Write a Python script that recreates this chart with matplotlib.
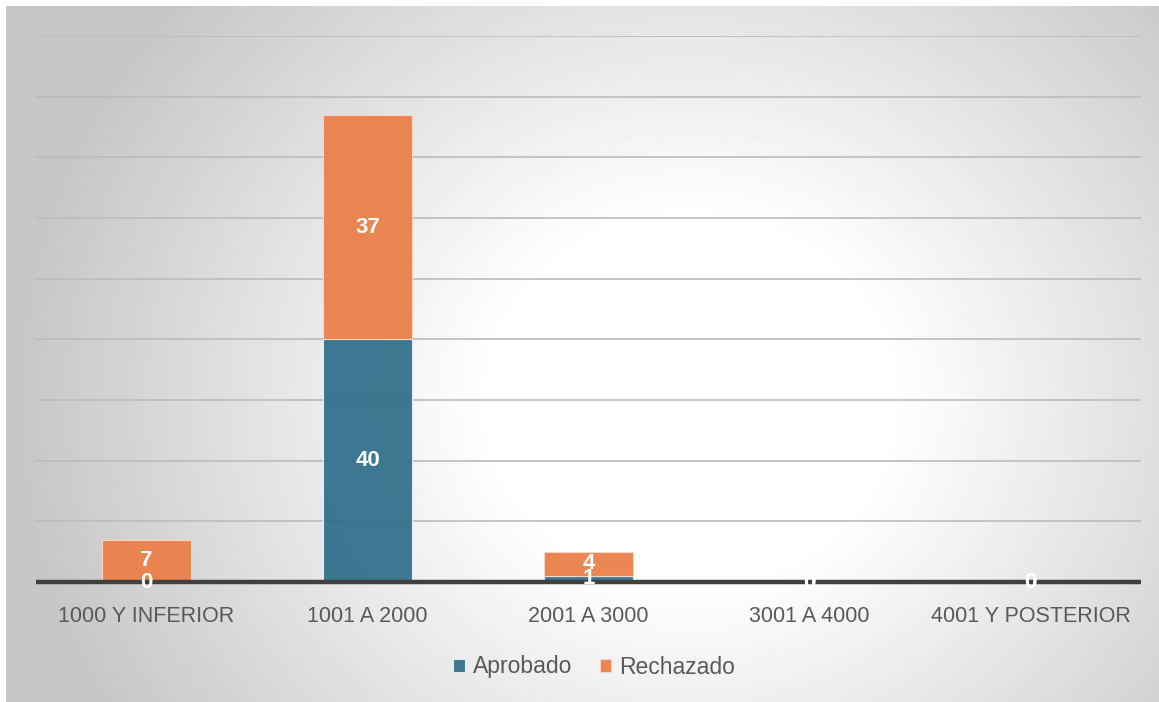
import matplotlib.pyplot as plt
import numpy as np

categories = ["1000 Y INFERIOR", "1001 A 2000", "2001 A 3000", "3001 A 4000", "4001 Y POSTERIOR"]
aprobado = [0, 40, 1, 0, 0]
rechazado = [7, 37, 4, 0, 0]

c_apr = "#33718C"
c_rec = "#EB8049"
text_col = "#595959"

plt.rcParams['font.family'] = ['Liberation Sans', 'DejaVu Sans']

W, H = 1159, 702
fig = plt.figure(figsize=(W / 100, H / 100), dpi=100)
fig.patch.set_facecolor("white")

# radial grey-to-white background of the chart area (white centre, grey edges)
bg = fig.add_axes([6 / W, 0, 1 - 6 / W, 1 - 6 / H])
yy, xx = np.mgrid[6:702, 6:1159]
d = np.hypot(xx - 690, (yy - 400) * 1.1)
shade = 1 - 0.22 * np.clip((d - 200) / 470, 0, 1)
bg.imshow(shade, cmap="gray", vmin=0, vmax=1, aspect="auto", interpolation="bilinear")
bg.set_axis_off()

ax = fig.add_axes([36 / W, 120 / H, (1141 - 36) / W, (582 - 36) / H])
ax.set_facecolor("none")

x = np.arange(len(categories))
ax.set_xlim(-0.5, len(categories) - 0.5)
ax.set_ylim(0, 90)
ax.set_yticks(np.arange(0, 91, 10))
ax.yaxis.grid(True, color="#bcbcbc", linewidth=1.2)
ax.set_axisbelow(True)

b1 = ax.bar(x, aprobado, width=0.4, color=c_apr, alpha=0.95,
            edgecolor="#e8eef2", linewidth=0.8, label="Aprobado")
b2 = ax.bar(x, rechazado, width=0.4, bottom=aprobado, color=c_rec, alpha=0.95,
            edgecolor="#f7d9c8", linewidth=0.8, label="Rechazado")

ax.axhline(0, color="#404040", linewidth=3.2, zorder=4, clip_on=False,
           solid_capstyle="butt")

for bars in (b1, b2):
    ax.bar_label(bars, label_type="center", color="white",
                 fontsize=16, fontweight="bold", zorder=5)

for s in ax.spines.values():
    s.set_visible(False)
ax.tick_params(axis="y", left=False, labelleft=False)
ax.tick_params(axis="x", length=0, pad=17, labelsize=15.5, labelcolor=text_col)
ax.set_xticks(x)
ax.set_xticklabels(categories)

fig.legend(handles=[b1, b2], labels=["Aprobado", "Rechazado"], loc="center",
           bbox_to_anchor=(594 / W, 1 - 667 / H), ncol=2, frameon=False,
           fontsize=16.5, labelcolor=text_col, handlelength=0.5, handleheight=0.5,
           handletextpad=0.35, columnspacing=1.2)

fig.savefig("out.png", dpi=100)
